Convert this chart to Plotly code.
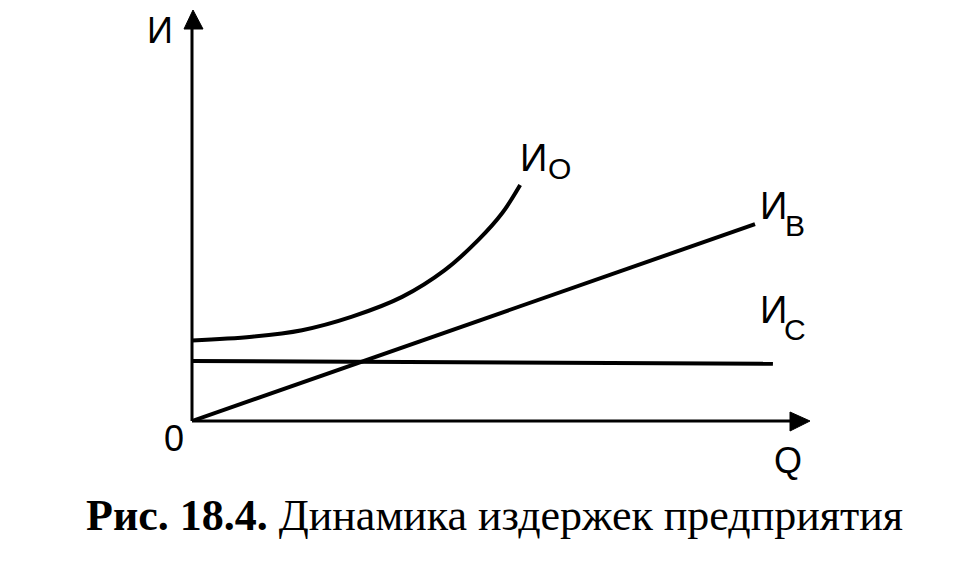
import plotly.graph_objects as go

# Data, Q and И in chart units
q_total = [0.0, 0.97, 1.78, 2.59, 3.40, 4.09, 4.63, 5.02, 5.31]
i_total = [1.96, 2.05, 2.21, 2.54, 3.02, 3.67, 4.40, 5.06, 5.74]
q_var = [0.0, 9.11]
i_var = [0.0, 4.79]
q_const = [0.0, 9.40]
i_const = [1.46, 1.39]

W, H = 960, 584
OFF = 8  # page body margin
L, R, T, B = 192 - OFF, 150 + OFF, 10 - OFF, 163 + OFF

fig = go.Figure()
line_style = dict(color="black", width=4)
fig.add_trace(go.Scatter(x=q_total, y=i_total, mode="lines", line=dict(shape="spline", **line_style), hoverinfo="skip"))
fig.add_trace(go.Scatter(x=q_var, y=i_var, mode="lines", line=line_style, hoverinfo="skip"))
fig.add_trace(go.Scatter(x=q_const, y=i_const, mode="lines", line=line_style, hoverinfo="skip"))

pw = W - L - R
ph = H - T - B

# convert reference-screen pixels to paper coordinates
def px(x):
    return (x - OFF - L) / pw

def py(y):
    return (H - B - (y - OFF)) / ph

shapes = [
    dict(type="line", xref="paper", yref="paper", x0=0, y0=0, x1=0, y1=py(26), line=dict(color="black", width=3)),
    dict(type="line", xref="paper", yref="paper", x0=0, y0=0, x1=px(795), y1=0, line=dict(color="black", width=3)),
    dict(type="path", xref="paper", yref="paper",
         path=f"M {px(193)} {py(10)} L {px(184)} {py(29)} L {px(203)} {py(29)} Z",
         fillcolor="black", line=dict(color="black", width=1)),
    dict(type="path", xref="paper", yref="paper",
         path=f"M {px(810)} {py(421)} L {px(790)} {py(412)} L {px(790)} {py(431)} Z",
         fillcolor="black", line=dict(color="black", width=1)),
]

sans = "Liberation Sans, Arial, sans-serif"
def lab(text, x, y, size=38, family=sans, yanchor="middle"):
    return dict(text=text, xref="paper", yref="paper", x=px(x), y=py(y), showarrow=False,
                xanchor="center", yanchor=yanchor, font=dict(family=family, size=size, color="black"))

annotations = [
    lab("И", 160, 8, size=36, yanchor="top"),
    lab("И", 533, 158), lab("О", 559, 168, size=30),
    lab("И", 773, 206), lab("В", 795, 225, size=30),
    lab("И", 773, 310), lab("С", 795, 329, size=30),
    lab("0", 174, 438, size=36),
    lab("Q", 788, 460, size=36),
    lab("<b>Рис. 18.4.</b> Динамика издержек предприятия", 494, 515, size=44,
        family="Liberation Serif, Times New Roman, serif"),
]

fig.update_layout(
    width=W, height=H,
    margin=dict(l=L, r=R, t=T, b=B),
    paper_bgcolor="white", plot_bgcolor="white",
    showlegend=False,
    shapes=shapes, annotations=annotations,
    xaxis=dict(range=[0, 10], visible=False),
    yaxis=dict(range=[0, 10], visible=False),
)

fig.write_html("out.html")
